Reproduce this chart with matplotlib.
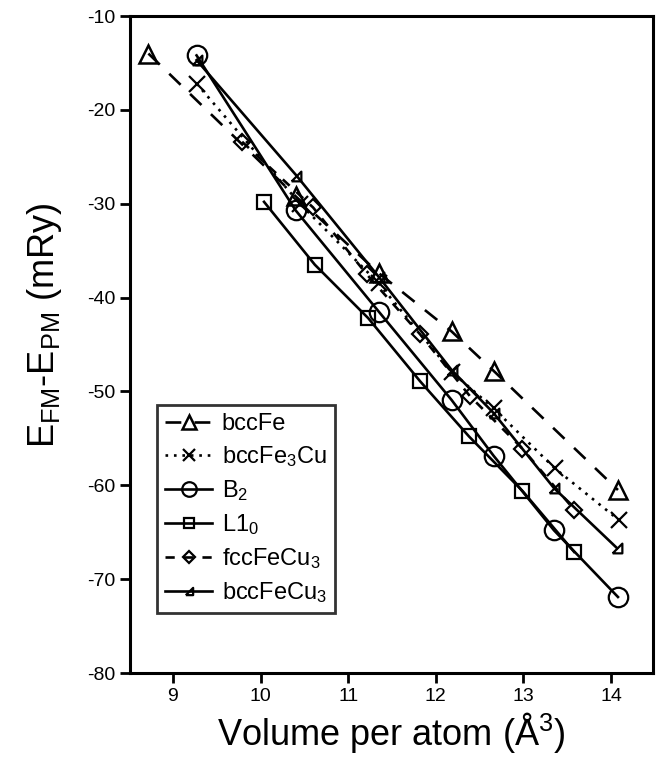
import matplotlib
matplotlib.use("Agg")
import matplotlib.pyplot as plt

plt.rcParams['font.family'] = ['Liberation Sans', 'DejaVu Sans']
plt.rcParams['mathtext.fontset'] = 'custom'
plt.rcParams['mathtext.rm'] = 'Liberation Sans'
plt.rcParams['mathtext.it'] = 'Liberation Sans:italic'
plt.rcParams['mathtext.bf'] = 'Liberation Sans:bold'
plt.rcParams['axes.unicode_minus'] = False

# Data
bccFe_x = [8.72, 10.40, 11.35, 12.18, 12.66, 14.08]
bccFe_y = [-14.0, -29.2, -37.4, -43.6, -47.8, -60.5]

bccFe3Cu_x = [9.27, 10.45, 11.35, 12.18, 12.66, 13.36, 14.09]
bccFe3Cu_y = [-17.2, -30.0, -38.5, -47.9, -51.8, -58.2, -63.7]

B2_x = [9.27, 10.40, 11.35, 12.18, 12.66, 13.35, 14.08]
B2_y = [-14.2, -30.7, -41.5, -50.9, -56.85, -64.8, -71.9]

L10_x = [10.04, 10.62, 11.23, 11.82, 12.38, 12.99, 13.58]
L10_y = [-29.8, -36.5, -42.2, -48.9, -54.8, -60.6, -67.1]

fccFeCu3_x = [9.79, 10.60, 11.21, 11.82, 12.39, 12.99, 13.58]
fccFeCu3_y = [-23.4, -30.4, -37.5, -43.9, -50.5, -56.1, -62.6]

bccFeCu3_x = [9.27, 10.41, 11.35, 12.18, 12.66, 13.35, 14.07]
bccFeCu3_y = [-14.7, -27.0, -37.8, -47.7, -52.3, -60.3, -66.7]

labels = ['bccFe', r'bccFe$_{\mathregular{3}}$Cu', r'B$_{\mathregular{2}}$', r'L1$_{\mathregular{0}}$',
          r'fccFeCu$_{\mathregular{3}}$', r'bccFeCu$_{\mathregular{3}}$']
xticks = [9, 10, 11, 12, 13, 14]
yticks = [-80, -70, -60, -50, -40, -30, -20, -10]

fig = plt.figure(figsize=(6.57, 7.76), dpi=100)
ax = fig.add_axes([130/657, 1-673/776, (653-130)/657, (673-16)/776])

lw = 1.9
rtri = [(-1, -1), (1, -1), (1, 1), (-1, -1)]

ax.plot(bccFe_x, bccFe_y, color='k', lw=lw, dashes=(6, 5), marker='^', ms=13,
        mfc='none', mec='k', mew=1.8, label=labels[0])
ax.plot(bccFe3Cu_x, bccFe3Cu_y, color='k', lw=lw, dashes=(1, 2.2), marker='x', ms=12,
        mec='k', mew=1.6, label=labels[1])
ax.plot(B2_x, B2_y, color='k', lw=lw, ls='-', marker='o', ms=14,
        mfc='none', mec='k', mew=1.6, label=labels[2])
ax.plot(L10_x, L10_y, color='k', lw=lw, ls='-', marker='s', ms=10,
        mfc='none', mec='k', mew=1.6, label=labels[3])
ax.plot(fccFeCu3_x, fccFeCu3_y, color='k', lw=lw, dashes=(3.5, 3.5), marker='D', ms=8,
        mfc='none', mec='k', mew=1.6, label=labels[4])
ax.plot(bccFeCu3_x, bccFeCu3_y, color='k', lw=lw, ls='-', marker=rtri, ms=7,
        mfc='none', mec='k', mew=1.6, label=labels[5])

ax.set_xlim(8.51, 14.48)
ax.set_ylim(-80, -10)
ax.set_xticks(xticks)
ax.set_yticks(yticks)
ax.tick_params(direction='out', length=7, width=2, labelsize=14)
for s in ax.spines.values():
    s.set_linewidth(2.2)

ax.set_xlabel(r'Volume per atom (Å$^{\mathregular{3}}$)', fontsize=26, labelpad=4)
ax.set_ylabel(r'E$_{\mathregular{FM}}$-E$_{\mathregular{PM}}$ (mRy)', fontsize=26)
ax.yaxis.set_label_coords(-0.127, 0.53)

leg = ax.legend(loc='lower left', bbox_to_anchor=((157-130)/523, (673-613)/657),
                fontsize=17, handlelength=2.0, handletextpad=0.4, labelspacing=0.38,
                borderpad=0.35, frameon=True, fancybox=False, edgecolor='k',
                borderaxespad=0, markerscale=0.75)
leg.get_frame().set_linewidth(2.0)

fig.savefig('out.png', dpi=100)
